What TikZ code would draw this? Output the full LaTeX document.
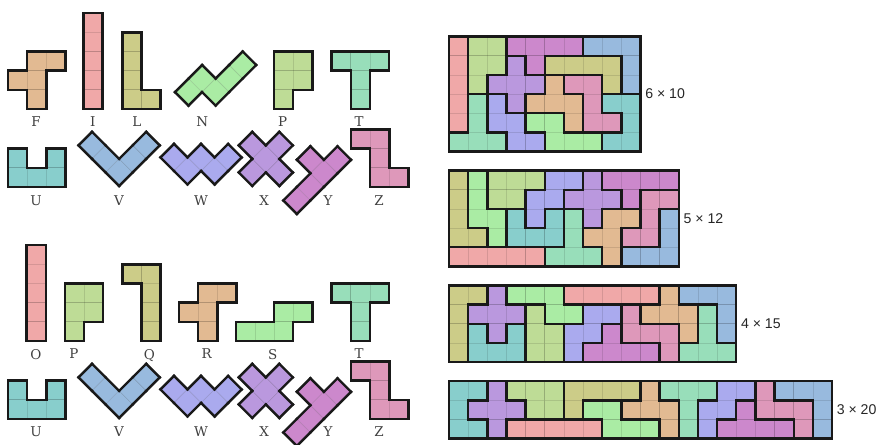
\documentclass[tikz,border=0pt]{standalone}
\usepackage{fontspec}
\setmainfont{DejaVu Serif}
\newfontfamily\dimfont{Liberation Sans}
\usepackage{tikz}
\usetikzlibrary{positioning}
\usepackage{xcolor}
\definecolor{PieceF}{RGB}{226,186,146}
\definecolor{PieceI}{RGB}{240,168,168}
\definecolor{PieceL}{RGB}{204,204,136}
\definecolor{PieceN}{RGB}{170,236,164}
\definecolor{PieceP}{RGB}{190,220,150}
\definecolor{PieceT}{RGB}{152,222,186}
\definecolor{PieceU}{RGB}{136,206,204}
\definecolor{PieceV}{RGB}{152,186,222}
\definecolor{PieceW}{RGB}{170,170,238}
\definecolor{PieceX}{RGB}{186,152,222}
\definecolor{PieceY}{RGB}{204,136,204}
\definecolor{PieceZ}{RGB}{222,152,186}
\tikzset{
  cellgrid/.style={draw=black,draw opacity=0.11,line width=0.5pt},
  pieceedge/.style={draw=black!90,line width=1.8pt,line cap=rect},
  board/.style={inner sep=0pt,outer sep=0pt,anchor=north west},
  dimlabel/.style={font=\dimfont\fontsize{10.5}{12}\selectfont,text=black!85},
  letterlabel/.style={font=\fontsize{10}{12}\selectfont,text=black!75,
    text depth=0pt,inner sep=0pt},
}
% one pentomino: cells given as column/row, rows counted downwards
\makeatletter
\newcommand\pentomino[3][]{%
  \begin{scope}[#1]
    \gdef\pcells{}%
    \foreach \pcol/\prow in {#3}{\xdef\pcells{\pcells(\pcol,\prow)}}
    \foreach \pcol/\prow in {#3}{
      \fill[#2] (\pcol,-\prow) rectangle ++(1,-1);
      \draw[cellgrid] (\pcol,-\prow) rectangle ++(1,-1);
    }
    \foreach \pcol/\prow in {#3}{
      \pgfmathtruncatemacro\pleft{\pcol-1}
      \pgfmathtruncatemacro\pright{\pcol+1}
      \pgfmathtruncatemacro\pup{\prow-1}
      \pgfmathtruncatemacro\pdown{\prow+1}
      \@expandtwoargs\in@{(\pleft,\prow)}{\pcells}
      \ifin@\else\draw[pieceedge] (\pcol,-\prow) -- ++(0,-1);\fi
      \@expandtwoargs\in@{(\pright,\prow)}{\pcells}
      \ifin@\else\draw[pieceedge] (\pcol+1,-\prow) -- ++(0,-1);\fi
      \@expandtwoargs\in@{(\pcol,\pup)}{\pcells}
      \ifin@\else\draw[pieceedge] (\pcol,-\prow) -- ++(1,0);\fi
      \@expandtwoargs\in@{(\pcol,\pdown)}{\pcells}
      \ifin@\else\draw[pieceedge] (\pcol,-\prow-1) -- ++(1,0);\fi
    }
  \end{scope}}
\makeatother

\begin{document}
\begin{tikzpicture}[x=0.5cm,y=0.5cm]
  \useasboundingbox (0,0) rectangle (45.8,23.19);

  % the twelve pieces, first naming
  \pentomino[shift={(0.42,20.5)}]{PieceF}{1/0,2/0,0/1,1/1,1/2}
  \pentomino[shift={(4.35,22.5)}]{PieceI}{0/0,0/1,0/2,0/3,0/4}
  \pentomino[shift={(6.39,21.5)}]{PieceL}{0/0,0/1,0/2,0/3,1/3}
  \pentomino[shift={(9.14,18.38)},rotate=45]{PieceN}{0/0,1/0,1/1,2/1,3/1}
  \pentomino[shift={(14.31,20.5)}]{PieceP}{0/0,1/0,0/1,1/1,0/2}
  \pentomino[shift={(17.32,20.5)}]{PieceT}{0/0,1/0,2/0,1/1,1/2}
  \node[letterlabel] (lbF) at (1.88,16.83) {F};
  \node[letterlabel] (lbI) at (4.85,16.83) {I};
  \node[letterlabel] (lbL) at (7.14,16.83) {L};
  \node[letterlabel] (lbN) at (10.56,16.83) {N};
  \node[letterlabel] (lbP) at (14.76,16.83) {P};
  \node[letterlabel] (lbT) at (18.76,16.83) {T};

  % the twelve pieces, second naming
  \pentomino[shift={(1.39,10.385)}]{PieceI}{0/0,0/1,0/2,0/3,0/4}
  \pentomino[shift={(3.38,8.385)}]{PieceP}{0/0,1/0,0/1,1/1,0/2}
  \pentomino[shift={(6.39,9.385)}]{PieceL}{0/0,1/0,1/1,1/2,1/3}
  \pentomino[shift={(9.35,8.385)}]{PieceF}{1/0,2/0,0/1,1/1,1/2}
  \pentomino[shift={(12.31,7.385)}]{PieceN}{2/0,3/0,0/1,1/1,2/1}
  \pentomino[shift={(17.32,8.385)}]{PieceT}{0/0,1/0,2/0,1/1,1/2}
  \node[letterlabel] (lbO) at (1.88,4.70) {O};
  \node[letterlabel] (lbP2) at (3.86,4.70) {P};
  \node[letterlabel] (lbQ) at (7.80,4.70) {Q};
  \node[letterlabel] (lbR) at (10.79,4.70) {R};
  \node[letterlabel] (lbS) at (14.24,4.70) {S};
  \node[letterlabel] (lbT2) at (18.76,4.70) {T};

  % pieces shared by both namings
  \foreach \dy/\set in {0/a,-12.115/b}{
    \begin{scope}[yshift=\dy*0.5cm]
      \pentomino[shift={(0.42,15.43)}]{PieceU}{0/0,2/0,0/1,1/1,2/1}
      \pentomino[shift={(4.10,15.60)},rotate=45]{PieceV}{0/0,0/1,0/2,1/2,2/2}
      \pentomino[shift={(10.50,17.09)},rotate=-45]{PieceW}{2/0,1/1,2/1,0/2,1/2}
      \pentomino[shift={(11.76,14.89)},rotate=45]{PieceX}{1/0,0/1,1/1,2/1,1/2}
      \pentomino[shift={(14.09,13.43)},rotate=45]{PieceY}{2/0,0/1,1/1,2/1,3/1}
      \pentomino[shift={(18.33,16.43)}]{PieceZ}{0/0,1/0,1/1,1/2,2/2}
      \node[letterlabel] (lbU\set) at (1.88,12.74) {U};
      \node[letterlabel] (lbV\set) at (6.21,12.74) {V};
      \node[letterlabel] (lbW\set) at (10.50,12.74) {W};
      \node[letterlabel] (lbX\set) at (13.79,12.74) {X};
      \node[letterlabel] (lbY\set) at (17.13,12.74) {Y};
      \node[letterlabel] (lbZ\set) at (19.79,12.74) {Z};
    \end{scope}
  }

  % the four boxes
  \node[board,minimum width=5cm,minimum height=3cm] (r6x10) at (23.45,21.28) {};
  \node[board,minimum width=6cm,minimum height=2.5cm,
    below right=0.5cm and 0cm of r6x10.south west] (r5x12) {};
  \node[board,minimum width=7.5cm,minimum height=2cm,
    below right=0.5cm and 0cm of r5x12.south west] (r4x15) {};
  \node[board,minimum width=10cm,minimum height=1.5cm,
    below right=0.5cm and 0cm of r4x15.south west] (r3x20) {};
  \node[dimlabel,right=0pt of r6x10] (d6x10) {6 × 10};
  \node[dimlabel,right=0pt of r5x12] (d5x12) {5 × 12};
  \node[dimlabel,right=0pt of r4x15] (d4x15) {4 × 15};
  \node[dimlabel,right=0pt of r3x20] (d3x20) {3 × 20};

  \pentomino[shift={(r6x10.north west)}]{PieceI}{0/0,0/1,0/2,0/3,0/4}
  \pentomino[shift={(r6x10.north west)}]{PieceP}{1/0,2/0,1/1,2/1,1/2}
  \pentomino[shift={(r6x10.north west)}]{PieceY}{3/0,4/0,5/0,6/0,4/1}
  \pentomino[shift={(r6x10.north west)}]{PieceV}{7/0,8/0,9/0,9/1,9/2}
  \pentomino[shift={(r6x10.north west)}]{PieceX}{3/1,2/2,3/2,4/2,3/3}
  \pentomino[shift={(r6x10.north west)}]{PieceL}{5/1,6/1,7/1,8/1,8/2}
  \pentomino[shift={(r6x10.north west)}]{PieceF}{5/2,4/3,5/3,6/3,6/4}
  \pentomino[shift={(r6x10.north west)}]{PieceZ}{6/2,7/2,7/3,7/4,8/4}
  \pentomino[shift={(r6x10.north west)}]{PieceT}{1/3,1/4,0/5,1/5,2/5}
  \pentomino[shift={(r6x10.north west)}]{PieceW}{2/3,2/4,3/4,3/5,4/5}
  \pentomino[shift={(r6x10.north west)}]{PieceN}{4/4,5/4,5/5,6/5,7/5}
  \pentomino[shift={(r6x10.north west)}]{PieceU}{8/3,9/3,9/4,8/5,9/5}

  \pentomino[shift={(r5x12.north west)}]{PieceL}{0/0,0/1,0/2,0/3,1/3}
  \pentomino[shift={(r5x12.north west)}]{PieceN}{1/0,1/1,1/2,2/2,2/3}
  \pentomino[shift={(r5x12.north west)}]{PieceP}{2/0,3/0,4/0,2/1,3/1}
  \pentomino[shift={(r5x12.north west)}]{PieceW}{5/0,6/0,4/1,5/1,4/2}
  \pentomino[shift={(r5x12.north west)}]{PieceX}{7/0,6/1,7/1,8/1,7/2}
  \pentomino[shift={(r5x12.north west)}]{PieceY}{8/0,9/0,10/0,11/0,9/1}
  \pentomino[shift={(r5x12.north west)}]{PieceZ}{10/1,11/1,10/2,9/3,10/3}
  \pentomino[shift={(r5x12.north west)}]{PieceU}{3/2,5/2,3/3,4/3,5/3}
  \pentomino[shift={(r5x12.north west)}]{PieceT}{6/2,6/3,5/4,6/4,7/4}
  \pentomino[shift={(r5x12.north west)}]{PieceF}{8/2,9/2,7/3,8/3,8/4}
  \pentomino[shift={(r5x12.north west)}]{PieceV}{11/2,11/3,9/4,10/4,11/4}
  \pentomino[shift={(r5x12.north west)}]{PieceI}{0/4,1/4,2/4,3/4,4/4}

  \pentomino[shift={(r4x15.north west)}]{PieceL}{0/0,1/0,0/1,0/2,0/3}
  \pentomino[shift={(r4x15.north west)}]{PieceX}{2/0,1/1,2/1,3/1,2/2}
  \pentomino[shift={(r4x15.north west)}]{PieceN}{3/0,4/0,5/0,5/1,6/1}
  \pentomino[shift={(r4x15.north west)}]{PieceI}{6/0,7/0,8/0,9/0,10/0}
  \pentomino[shift={(r4x15.north west)}]{PieceF}{11/0,10/1,11/1,12/1,12/2}
  \pentomino[shift={(r4x15.north west)}]{PieceV}{12/0,13/0,14/0,14/1,14/2}
  \pentomino[shift={(r4x15.north west)}]{PieceP}{4/1,4/2,5/2,4/3,5/3}
  \pentomino[shift={(r4x15.north west)}]{PieceW}{7/1,8/1,6/2,7/2,6/3}
  \pentomino[shift={(r4x15.north west)}]{PieceZ}{9/1,9/2,10/2,11/2,11/3}
  \pentomino[shift={(r4x15.north west)}]{PieceT}{13/1,13/2,12/3,13/3,14/3}
  \pentomino[shift={(r4x15.north west)}]{PieceU}{1/2,3/2,1/3,2/3,3/3}
  \pentomino[shift={(r4x15.north west)}]{PieceY}{8/2,7/3,8/3,9/3,10/3}

  \pentomino[shift={(r3x20.north west)}]{PieceU}{0/0,1/0,0/1,0/2,1/2}
  \pentomino[shift={(r3x20.north west)}]{PieceX}{2/0,1/1,2/1,3/1,2/2}
  \pentomino[shift={(r3x20.north west)}]{PieceP}{3/0,4/0,5/0,4/1,5/1}
  \pentomino[shift={(r3x20.north west)}]{PieceL}{6/0,7/0,8/0,9/0,6/1}
  \pentomino[shift={(r3x20.north west)}]{PieceF}{10/0,9/1,10/1,11/1,11/2}
  \pentomino[shift={(r3x20.north west)}]{PieceT}{11/0,12/0,13/0,12/1,12/2}
  \pentomino[shift={(r3x20.north west)}]{PieceW}{14/0,15/0,13/1,14/1,13/2}
  \pentomino[shift={(r3x20.north west)}]{PieceZ}{16/0,16/1,17/1,18/1,18/2}
  \pentomino[shift={(r3x20.north west)}]{PieceV}{17/0,18/0,19/0,19/1,19/2}
  \pentomino[shift={(r3x20.north west)}]{PieceN}{7/1,8/1,8/2,9/2,10/2}
  \pentomino[shift={(r3x20.north west)}]{PieceI}{3/2,4/2,5/2,6/2,7/2}
  \pentomino[shift={(r3x20.north west)}]{PieceY}{15/1,14/2,15/2,16/2,17/2}
\end{tikzpicture}
\end{document}
